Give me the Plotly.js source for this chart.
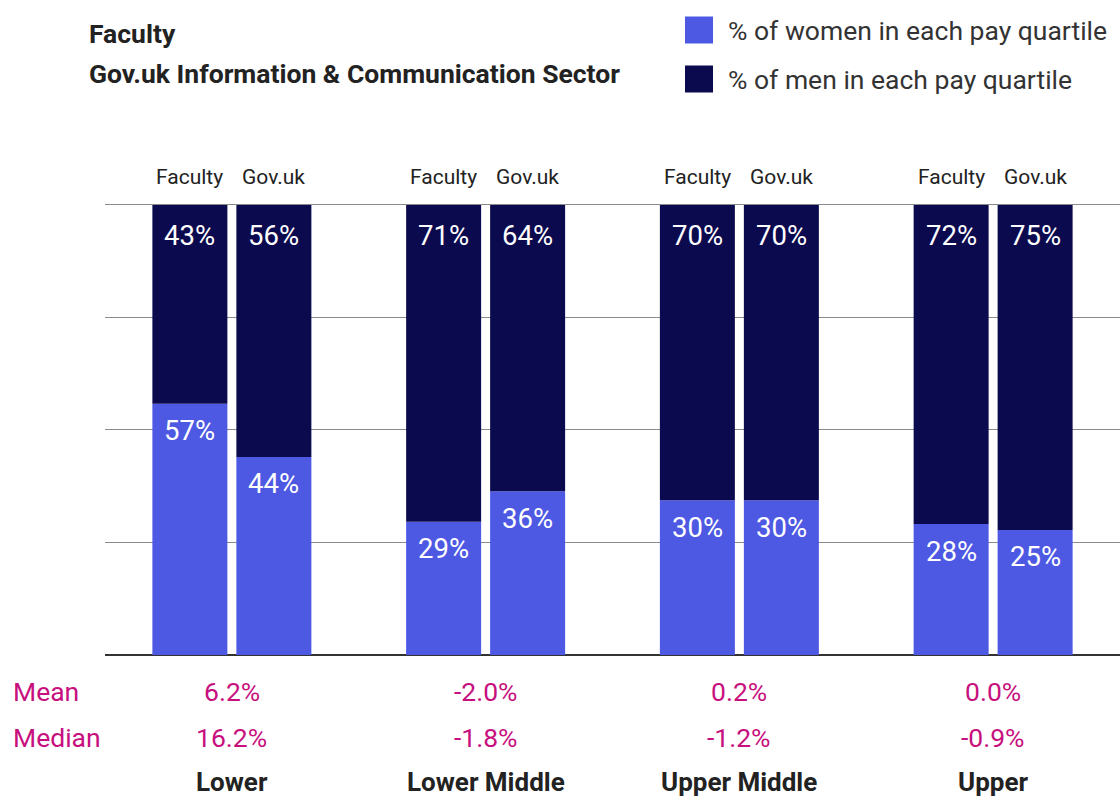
<!DOCTYPE html>
<html>
<head>
<meta charset="utf-8">
<script src="https://cdn.plot.ly/plotly-3.0.1.min.js"></script>
<style>html,body{margin:0;padding:0;background:#fff;}#chart{width:1120px;height:799px;}</style>
</head>
<body>
<div id="chart"></div>
<script>
// ---- data ----
const quartiles = ["Lower", "Lower Middle", "Upper Middle", "Upper"];
const womenFaculty = [55.8, 29.6, 34.4, 29.1];   // bar heights as drawn
const womenGov     = [44.0, 36.4, 34.4, 27.8];
const menFaculty   = [44.2, 70.4, 65.6, 70.9];
const menGov       = [56.0, 63.6, 65.6, 72.2];
const womenFacultyLabels = ["57%", "29%", "30%", "28%"];
const womenGovLabels     = ["44%", "36%", "30%", "25%"];
const menFacultyLabels   = ["43%", "71%", "70%", "72%"];
const menGovLabels       = ["56%", "64%", "70%", "75%"];
const meanGap   = ["6.2%", "-2.0%", "0.2%", "0.0%"];
const medianGap = ["16.2%", "-1.8%", "-1.2%", "-0.9%"];
const groupNames = ["Faculty", "Gov.uk"];
const legendNames = ["% of women in each pay quartile", "% of men in each pay quartile"];
const titleLines = ["Faculty", "Gov.uk Information & Communication Sector"];

// ---- style ----
const WOMEN = "#4D59E3";
const MEN = "#0C0A4F";
const MAGENTA = "#C7107E";
const FONT = "Roboto, 'Noto Sans', Arial, sans-serif";
const SHIFT = 42;
const TOP = 200, BOTTOM = 655, LEFT = 105, PW = 1015, H = 799;
const PH = BOTTOM - TOP;

const traces = [
  {type: "bar", x: quartiles, y: womenFaculty, offsetgroup: "fac", marker: {color: WOMEN}, name: legendNames[0], hoverinfo: "skip"},
  {type: "bar", x: quartiles, y: menFaculty, base: womenFaculty, offsetgroup: "fac", marker: {color: MEN}, name: legendNames[1], hoverinfo: "skip"},
  {type: "bar", x: quartiles, y: womenGov, offsetgroup: "gov", marker: {color: WOMEN}, name: legendNames[0], hoverinfo: "skip"},
  {type: "bar", x: quartiles, y: menGov, base: womenGov, offsetgroup: "gov", marker: {color: MEN}, name: legendNames[1], hoverinfo: "skip"}
];

const ann = [];
function txt(o) { return Object.assign({showarrow: false, yanchor: "middle", font: {family: FONT, size: 26.5, color: "#222"}}, o); }
const pctFont = {family: FONT, size: 27.5, color: "#fff"};
const subFont = {family: FONT, size: 21, color: "#222"};
const gapFont = {family: FONT, size: 26.5, color: MAGENTA};

quartiles.forEach((q, i) => {
  // group sub-labels above bars
  ann.push(txt({x: q, y: 100, xref: "x", yref: "y", xshift: -SHIFT, yshift: 28, text: groupNames[0], font: subFont}));
  ann.push(txt({x: q, y: 100, xref: "x", yref: "y", xshift: SHIFT, yshift: 28, text: groupNames[1], font: subFont}));
  // men labels
  ann.push(txt({x: q, y: womenFaculty[i] + menFaculty[i], xref: "x", yref: "y", xshift: -SHIFT, yshift: -31, text: menFacultyLabels[i], font: pctFont}));
  ann.push(txt({x: q, y: womenGov[i] + menGov[i], xref: "x", yref: "y", xshift: SHIFT, yshift: -31, text: menGovLabels[i], font: pctFont}));
  // women labels
  ann.push(txt({x: q, y: womenFaculty[i], xref: "x", yref: "y", xshift: -SHIFT, yshift: -27, text: womenFacultyLabels[i], font: pctFont}));
  ann.push(txt({x: q, y: womenGov[i], xref: "x", yref: "y", xshift: SHIFT, yshift: -27, text: womenGovLabels[i], font: pctFont}));
  // mean / median / quartile names
  ann.push(txt({x: q, y: 0, xref: "x", yref: "y", yshift: -36, text: meanGap[i], font: gapFont}));
  ann.push(txt({x: q, y: 0, xref: "x", yref: "y", yshift: -82, text: medianGap[i], font: gapFont}));
  ann.push(txt({x: q, y: 0, xref: "x", yref: "y", yanchor: "bottom", borderpad: 0, yshift: -(H - BOTTOM) + 1, text: "<b>" + q + "</b>", font: {family: FONT, size: 26, color: "#222"}}));
});

// row labels
ann.push(txt({x: 0, y: 0, xref: "paper", yref: "y", xanchor: "left", xshift: -94, yshift: -36, text: "Mean", font: gapFont}));
ann.push(txt({x: 0, y: 0, xref: "paper", yref: "y", xanchor: "left", xshift: -94, yshift: -82, text: "Median", font: gapFont}));

// titles
ann.push(txt({x: 0, y: 1, xref: "paper", yref: "paper", xanchor: "left", xshift: -18, yshift: TOP - 33, text: "<b>" + titleLines[0] + "</b>", font: {family: FONT, size: 26.5, color: "#222"}}));
ann.push(txt({x: 0, y: 1, xref: "paper", yref: "paper", xanchor: "left", xshift: -18, yshift: TOP - 73, text: "<b>" + titleLines[1] + "</b>", font: {family: FONT, size: 26.5, color: "#222"}}));

// custom legend
const shapes = [];
[[WOMEN, 30], [MEN, 79]].forEach(([c, yc], k) => {
  const yp = (BOTTOM - yc) / PH;
  shapes.push({type: "rect", xref: "paper", yref: "paper", x0: (685 - LEFT) / PW, x1: (713 - LEFT) / PW, y0: yp - 13.5 / PH, y1: yp + 13.5 / PH, fillcolor: c, line: {width: 0}});
  ann.push(txt({x: (726 - LEFT) / PW, y: yp, xref: "paper", yref: "paper", xanchor: "left", text: legendNames[k], font: {family: FONT, size: 26.5, color: "#333"}}));
});

const layout = {
  width: 1120, height: H,
  margin: {l: LEFT, r: 0, t: TOP, b: H - BOTTOM, pad: 0},
  paper_bgcolor: "#fff", plot_bgcolor: "#fff",
  barmode: "group", bargap: 0.338, bargroupgap: 0.107,
  showlegend: false,
  xaxis: {type: "category", range: [-0.5, 3.5], showticklabels: false, ticks: "", showgrid: false, zeroline: false, showline: false, fixedrange: true},
  yaxis: {range: [0, 101.1], tickvals: [0, 25, 50, 75, 100], showticklabels: false, ticks: "", showgrid: true, gridcolor: "#8a8a8a", gridwidth: 1, zeroline: true, zerolinecolor: "#333", zerolinewidth: 1.5, fixedrange: true},
  annotations: ann,
  shapes: shapes,
  font: {family: FONT}
};

Plotly.newPlot("chart", traces, layout, {displayModeBar: false, staticPlot: true});
</script>
</body>
</html>
